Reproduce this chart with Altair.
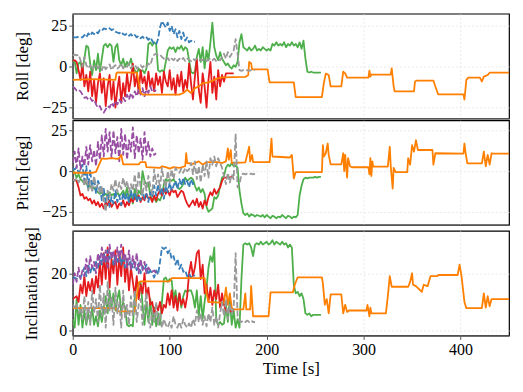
import altair as alt
import pandas as pd

# ---------------- data ----------------
# noisy series are sampled every STEP seconds starting at 0
STEP = 2

blue_roll = [18, 18, 18, 18.5, 18, 18, 19.5, 18, 20.5, 19, 21, 20, 21.5, 20.5, 22.5, 22, 23.5, 23, 24, 23.5,
             22.5, 23, 21.5, 21, 20.5, 21.5, 20, 19.5, 20.5, 19, 20, 18.5, 19.5, 18, 19, 17.5, 18.5, 17, 18, 16.5,
             18, 16, 14, 13.5, 17, 24, 28, 26, 24, 27, 22, 25, 20, 23, 18, 22, 17, 21, 16, 18, 15, 16, 15, 15.5]
blue_pitch = [2, 1, 2.5, -1, 0.5, 4, -6, 3, -10, 1, -12, -4, -14, -6, -9, -18, -11, -20, -14, -22,
              -16, -20, -12, -19, -15, -21, -13, -18, -14, -19, -12, -17, -13, -19, -15, -18, -12, -17, -14, -19,
              -13, -16, -9, -15, -8, -14, -10, -17, -9, -13, -7, -12, -9, -6, -11, -5, -9, -4, -8, -6, -10, -5, -8, -7]
blue_incl = [18, 18.5, 18, 19, 18.5, 20, 22, 19, 23, 20, 22.5, 21, 24, 22, 26, 23, 27, 24, 28, 25,
             27, 23, 26, 24, 27.5, 23, 26, 22, 25, 23, 24.5, 22, 24, 21, 23.5, 20, 22.5, 21, 23, 19.5,
             21, 20, 18.5, 21, 19.5, 24, 29, 28.5, 29, 27, 28, 25, 26, 23, 25, 21.5, 23, 20.5, 21, 19, 20, 18.5, 19.5, 19]

purple_roll = [-12, -13, -14.5, -14, -15, -17, -19, -18.5, -20, -19, -21, -20, -23, -25, -24, -27, -28, -26, -24, -25,
               -22, -24, -21, -23, -20, -22, -19, -21, -17, -20, -16, -19, -15, -18, -14, -17, -13, -18, -14, -16,
               -12, -15, -14, -15]
purple_pitch = [5, 12, 2, 14, 1, 9, 3, 15, 4, 16, 6, 13, 3, 18, 7, 22, 9, 26, 12, 24,
                8, 25, 11, 21, 6, 26, 10, 23, 7, 19, 12, 27, 8, 22, 11, 20, 7, 24, 10, 18,
                9, 14, 10, 11]
purple_incl = [16, 20, 17, 22, 18, 21, 19, 25, 20, 26, 22, 24, 20, 27, 23, 29, 24, 28, 22, 30,
               25, 28, 23, 29, 24, 30, 25, 27, 22, 28, 21, 26, 22, 27, 20, 25, 21, 24, 20, 22,
               21, 20.5, 21, 20]

red_roll = [4, 4, 3, -2, -8, 2, -12, -5, -15, -3, -18, -8, -22, -10, -4, -16, -7, -24, -12, -5,
            -20, -9, -25, -14, -6, -22, -10, -18, -4, -15, -8, 2, -12, -5, -16, -2, -10, -6, -14, -3,
            -12, -7, -15, -4, -11, -6, -16, -3, -9, -12, -2, -14, -7, -17, -5, -12, -3, -15, -8, -13,
            2, -10, -20, -6, 5, -14, -22, -4, -12, -25, -8, 3, -16, -6, -20, -2, -12, -5, -9, -4,
            -4, -4, -4, -4]
red_pitch = [-5, -5.5, -6, -10, -15, -14, -17, -16, -18, -17, -20, -18, -21, -19, -22, -20, -23, -19, -21, -18,
             -22, -20, -19, -23, -20, -21, -18, -22, -19, -21, -17, -19, -16, -18, -15, -19, -16, -18, -14, -17,
             -16, -19, -15, -18, -14, -12, -15, -11, -14, -12, -15, -11, -13, -12, -16, -14, -12, -13, -17, -20,
             -22, -20, -18, -21, -17, -22, -19, -23, -18, -21, -16, -13, -15, -11, -14, -12, -10, -6, -4, -4,
             -3.5, -4, -3.5, -4]
red_incl = [11, 11.5, 12, 10, 16, 13, 19, 12, 17, 14, 18, 13, 19, 15, 24, 16, 27, 18, 29, 15,
            25, 20, 28, 16, 26, 19, 29, 17, 24, 14, 22, 17, 12, 19, 11, 16, 13, 20, 12, 15,
            9, 10, 6, 9, 7, 10, 6, 9, 8, 13, 9, 14, 8, 12, 7, 13, 9, 11, 8, 12,
            20, 24, 19, 22, 27, 28, 18, 23, 13, 16, 10, 15, 9, 14, 11, 16, 8, 13, 9, 7,
            6.5, 7, 6.5, 7]

gray_roll = [7, 7.5, 7, 7.5, 4, 0, 6, 1, -1, 1, -2, 0, 1.5, -1, 0.5, -2, 1, -1.5, 0, 1.5,
             -2, 0, 1, -1, 0, 2, -1, 1, 0, 2, -1, 0.5, 1.5, -1, 0, 1, -0.5, 1, 0, 2,
             1, 5, 7.5, 8, 7, 7.5, 6, 5, 4, 5.5, 3.5, 5, 4, 5.5, 3.5, 5, 4, 5.5, 3.5, 5,
             4.5, 3.5, 5, 4, 5, 3.5, 4.5, 4, 5, 3.5, 4.5, 5, 4, 5, 3.5, 4.5, 4, 6, 8, 5,
             9, 6, 8, 10, 17, 8, -2, -2.5, -2, -2.5, -2, -2.5, -2, -2, -2]
gray_pitch = [-5, -6, -4, -7, -5, -2, -9, -4, -12, -6, -13, -3, -10, -8, -14, -9, -19, -25, -12, -16,
              -8, -12, -5, -13, -7, -11, -4, -10, -6, -13, -8, -12, -2, -14, 0, -10, -15, -6, -12, -3,
              -9, -14, 1, -8, -2, -11, 2, -6, -10, 0, -7, 1, -5, 2, 0, -1, 1.5, -1, 2, 0,
              1, 5, -2, 6, -5, 3, -7, 4, -3, 6, -4, 8, 4, 9, 3, 8, 5, 2, -3, -8,
              -1, -7, -2, -5, 23, -10, -8, -2, -1.5, -2, -1.5, -2, -1.5, -2, -1.5]
gray_incl = [9, 8, 9.5, 6, 8, 4, 12, 3, 10, 2, 14, 6, 11, 3, 16, 5, 13, 1, 17, 7,
             12, 2, 15, 6, 10, 1, 14, 4, 9, 2, 12, 5, 14, 3, 9, 11, 2, 8, 13, 4,
             1, 7, 3, 10, 2, 6, 1, 4, 2, 1, 3, 1, 5, 2, 1, 3, 1, 4, 2, 1,
             2.5, 1, 4, 2, 7, 3, 6, 2, 5, 1.5, 6, 3, 8, 2, 5, 1, 6, 10, 5, 11,
             4, 9, 6, 8, 27, 5, 3.5, 3, 3.5, 3, 3.5, 3, 3.5, 3, 3]

green_roll = [3, 3.5, -4, 2, 3, -3, 5, 13, 12, 2, -5, 4, -2, 8, -3, 5, 13, 14, 12, 14,
              13, 3, 12, 14, 4, 1, 5, 0, 3, 1, 5, 0, -2, -4, -1, -3, -2, -4, -1, 14,
              15, 13, 15, 14, -2, -3, -2, -3, 3, 10, 12, 11, 12, 9, 12, 11, 13, 10, 12, 11,
              4, -3, -4, -3, 6, 11, 3, 12, -1, 10, 4, 15, 27, 12, 7, 4, 9, 5, 3, 1,
              2, 0, -1, 1, 0, 3, 15, 20, 12, 11, 10, 12, 10, 11, 13, 10, 11, 10, 12, 11,
              10, 11, 10, 14, 13, 15, 13, 14, 13, 15, 12, 14, 13, 15, 13, 14, 12, 15, 11, 16,
              5, -3, -3.5, -3, -3.5, -3.5, -3.5, -3.5, -3.5]
green_pitch = [0, -1, -4, -2, -5, -6, -8, -7, -10, -9, -11, -10, -12, -13, -14, -13, -15, -14, -15, -13,
               -15, -14, -16, -13, -15, -14, -12, -15, -10, -18, -13, -20, -11, -17, -12, -14, 0, -6, -8, -7,
               -15, -18, -16, -19, -17, -18, -15, -8, -5, -6, -5, -6, -5, -7, -10, -11, -10, -8, -4, -6,
               -5, -4, -5, -9, -12, -10, -13, -11, -14, -22, -25, -24, -23, -16, -17, -15, -9, -4, -3, 2,
               4, 3, 5, 3, 3.5, 2, -12, -20, -26, -27, -26, -28, -26.5, -27, -28, -27, -27.5, -28, -27, -28.5,
               -27, -28, -29, -27.5, -28, -29, -28, -28.5, -27, -28, -29, -27.5, -28, -29, -28, -28.5, -27, -15, -9, -5,
               -4, -4.5, -4, -4, -4, -3.5, -4, -3.5, -3.5]
green_incl = [4, 1, 11, 2, 9, 1, 7, 2, 6, 3, 8, 2, 5, 1.5, 7, 3, 8, 12, 6, 14,
              8, 13, 7, 11, 14, 6, 10, 8, 2, 1.5, 2, 1.5, 12, 17, 16, 17, 9, 2, 10, 3,
              11, 2, 8, 1.5, 6, 2, 10, 18, 18.5, 17, 18, 17.5, 11, 14, 9, 13, 8, 12, 14, 13.5,
              14, 14, 12, 8, 14, 5, 12, 4, 10, 15, 22, 26, 24, 29, 4, 2, 3, 2, 2.5, 9,
              3, 11, 2, 7, 1, 4, 1, 18, 30, 30.5, 30, 30.5, 29, 26, 30, 30.5, 30, 31, 30, 30.5,
              31, 30, 30.5, 31.5, 30, 31, 30.5, 30, 31, 30, 30.5, 29, 30, 29, 16, 13, 13.5, 12, 13, 11,
              6, 5.5, 6, 5, 5.5, 5.5, 5.5, 5.5, 5.5]

# orange: step-like, given as (time, value) vertices per panel
orange_roll_t = [0, 22, 44, 45, 46, 66, 68, 70, 72, 110, 114, 118, 122, 126, 130, 134, 140, 146, 150, 154,
                 178, 181, 182, 184, 185, 201, 203, 228, 230, 257, 259, 261, 264, 266, 277, 279, 281, 283,
                 305, 306, 307, 308, 328, 329, 331, 332, 352, 353, 355, 372, 374, 377, 403, 404, 406, 408,
                 420, 422, 424, 428, 430, 450]
orange_roll_v = [-8, -7.5, -8, -4, -3.4, -3.5, -9, -16, -17, -17, -16, -14, -16, -13, -12, -10, -9.5, -8, -7, -6.5,
                 -6.2, -5, 3, 2, -1.5, -1.5, -9.5, -9.5, -18.6, -18.6, -10, -4.2, -5, -12, -12, -3, -4, -6.6,
                 -6.6, -2.4, -6, -4.8, -4.8, -1, -12, -15, -15, -9, -8.4, -8.4, -12, -16.9, -16.9, -20, -8, -6.6,
                 -6.6, -9, -6, -5, -3.6, -3.6]
orange_pitch_t = [0, 20, 24, 30, 34, 40, 46, 48, 50, 52, 68, 70, 75, 76, 90, 92, 96, 100, 104, 110,
                  116, 117, 118, 124, 130, 134, 138, 150, 154, 158, 160, 161, 163, 164, 178, 182, 183, 185, 186, 203,
                  205, 206, 224, 226, 228, 230, 257, 258, 259, 261, 263, 264, 266, 277, 279, 280, 281, 283, 284, 286,
                  288, 305, 306, 307, 308, 309, 310, 325, 327, 328, 330, 331, 333, 345, 346, 348, 350, 352, 354, 356,
                  371, 372, 374, 403, 404, 405, 407, 422, 424, 426, 428, 430, 432, 434, 450]
orange_pitch_v = [-1, -1, -0.5, 7.8, 7.5, 8, 7.5, 8, 10, 4.2, 4.2, 5.5, 5.5, 2.5, 2, 3, 2.5, 1.5, 2.5, 2,
                  3, 11, 5, 4.5, 6, 4, 5.5, 5.5, 5, 6, 14, 7, 13, 5, 5.4, 15, 6, 10, 5.5, 5.5,
                  20, 9, 8.4, 10, -4.5, -0.6, -0.6, 16, 9, 11, 17, 10, 4.2, 4.2, 11, 0, 10, -4, 8, 3,
                  2.4, 2.4, -2, 8, -3, 6, 2.8, 2.8, 15, 3, -10.8, 2, -0.6, -0.6, 8, 4, 16, 12, 19, 13,
                  13, 4, 11, 10.8, 17, 12, 4.8, 4.8, 12, 3, 10, 4, 11, 10.8, 10.8]
orange_incl_t = [0, 44, 46, 64, 66, 68, 70, 100, 102, 136, 138, 140, 156, 158, 160, 162, 164, 166, 176, 178,
                 179, 183, 184, 186, 202, 204, 227, 229, 232, 257, 258, 260, 262, 264, 266, 277, 279, 281, 283, 285,
                 303, 304, 306, 307, 308, 323, 325, 327, 329, 346, 348, 350, 351, 354, 360, 362, 366, 369, 376, 377,
                 397, 399, 401, 404, 406, 422, 424, 426, 428, 430, 432, 450]
orange_incl_v = [7.8, 7.8, 6.7, 6.7, 12, 16.7, 17.2, 17.2, 18.3, 18.3, 13, 10, 9.7, 15, 9, 13, 8, 7.4, 7.4, 13,
                 7.4, 7.4, 15.6, 5, 5, 13.3, 13.3, 16, 18.6, 18.6, 16.5, 9, 11, 6, 12.6, 12.6, 6, 9, 6.5, 7,
                 7, 9, 5, 8, 6, 6, 12, 19, 15.3, 15.3, 17, 20, 16, 15.5, 13.5, 16, 15.5, 19, 19, 19.4,
                 19.4, 23, 19, 10, 7.8, 7.8, 13, 8, 12, 8.5, 11, 11]

SERIES = [
    # name, colour, dashed, roll, pitch, incl
    ("green", "#4daf4a", False, green_roll, green_pitch, green_incl),
    ("red", "#e41a1c", False, red_roll, red_pitch, red_incl),
    ("blue", "#377eb8", True, blue_roll, blue_pitch, blue_incl),
    ("purple", "#984ea3", True, purple_roll, purple_pitch, purple_incl),
    ("orange", "#ff7f00", False, None, None, None),
    ("gray", "#999999", True, gray_roll, gray_pitch, gray_incl),
]
ORANGE = {
    0: (orange_roll_t, orange_roll_v),
    1: (orange_pitch_t, orange_pitch_v),
    2: (orange_incl_t, orange_incl_v),
}

PANELS = [
    ("Roll [deg]", [-31.5, 32.5], [-25, 0, 25]),
    ("Pitch [deg]", [-33.1, 31.3], [-25, 0, 25]),
    ("Inclination [deg]", [-1.7, 34.8], [0, 20]),
]
X_TICKS = [0, 100, 200, 300, 400]

W, H = 438, 105
FONT = "Liberation Serif"


def panel(idx):
    title, ydom, yticks = PANELS[idx]
    last = idx == len(PANELS) - 1
    if last:
        xaxis = alt.Axis(values=X_TICKS, title="Time [s]", grid=True, labelFlush=False, titlePadding=3)
    else:
        xaxis = alt.Axis(values=X_TICKS, title=None, labels=False, ticks=False, grid=True)
    yaxis = alt.Axis(values=yticks, title=title, grid=True)
    layers = []
    for name, colour, dashed, r, p, inc in SERIES:
        if name == "orange":
            ts, vs = ORANGE[idx]
        else:
            vs = [r, p, inc][idx]
            ts = [i * STEP for i in range(len(vs))]
        df = pd.DataFrame({"t": ts, "v": vs})
        kw = dict(color=colour, strokeWidth=1.8, clip=True, strokeJoin="round")
        if dashed:
            kw["strokeDash"] = [6, 2.5]
        layers.append(
            alt.Chart(df).mark_line(**kw).encode(
                x=alt.X("t:Q", scale=alt.Scale(domain=[0, 450], nice=False, zero=False), axis=xaxis),
                y=alt.Y("v:Q", scale=alt.Scale(domain=ydom, nice=False, zero=False), axis=yaxis),
            )
        )
    return alt.layer(*layers).properties(width=W, height=H)


chart = (
    alt.vconcat(panel(0), panel(1), panel(2), spacing=0)
    .properties(padding={"top": 4, "left": 5, "right": 5, "bottom": 5})
    .configure(font=FONT)
    .configure_axis(
        labelFont=FONT,
        titleFont=FONT,
        labelFontSize=16,
        titleFontSize=17,
        titleFontWeight="normal",
        labelColor="black",
        titleColor="black",
        gridColor="#e3e3e3",
        gridDash=[2, 2],
        gridWidth=0.8,
        domainColor="#555555",
        domainWidth=1.4,
        tickColor="#555555",
        tickSize=4,
        labelPadding=2,
        titlePadding=10,
    )
    .configure_view(stroke="black", strokeWidth=1.2)
)

chart.save("out.html", embed_options={"renderer": "svg", "actions": False})
